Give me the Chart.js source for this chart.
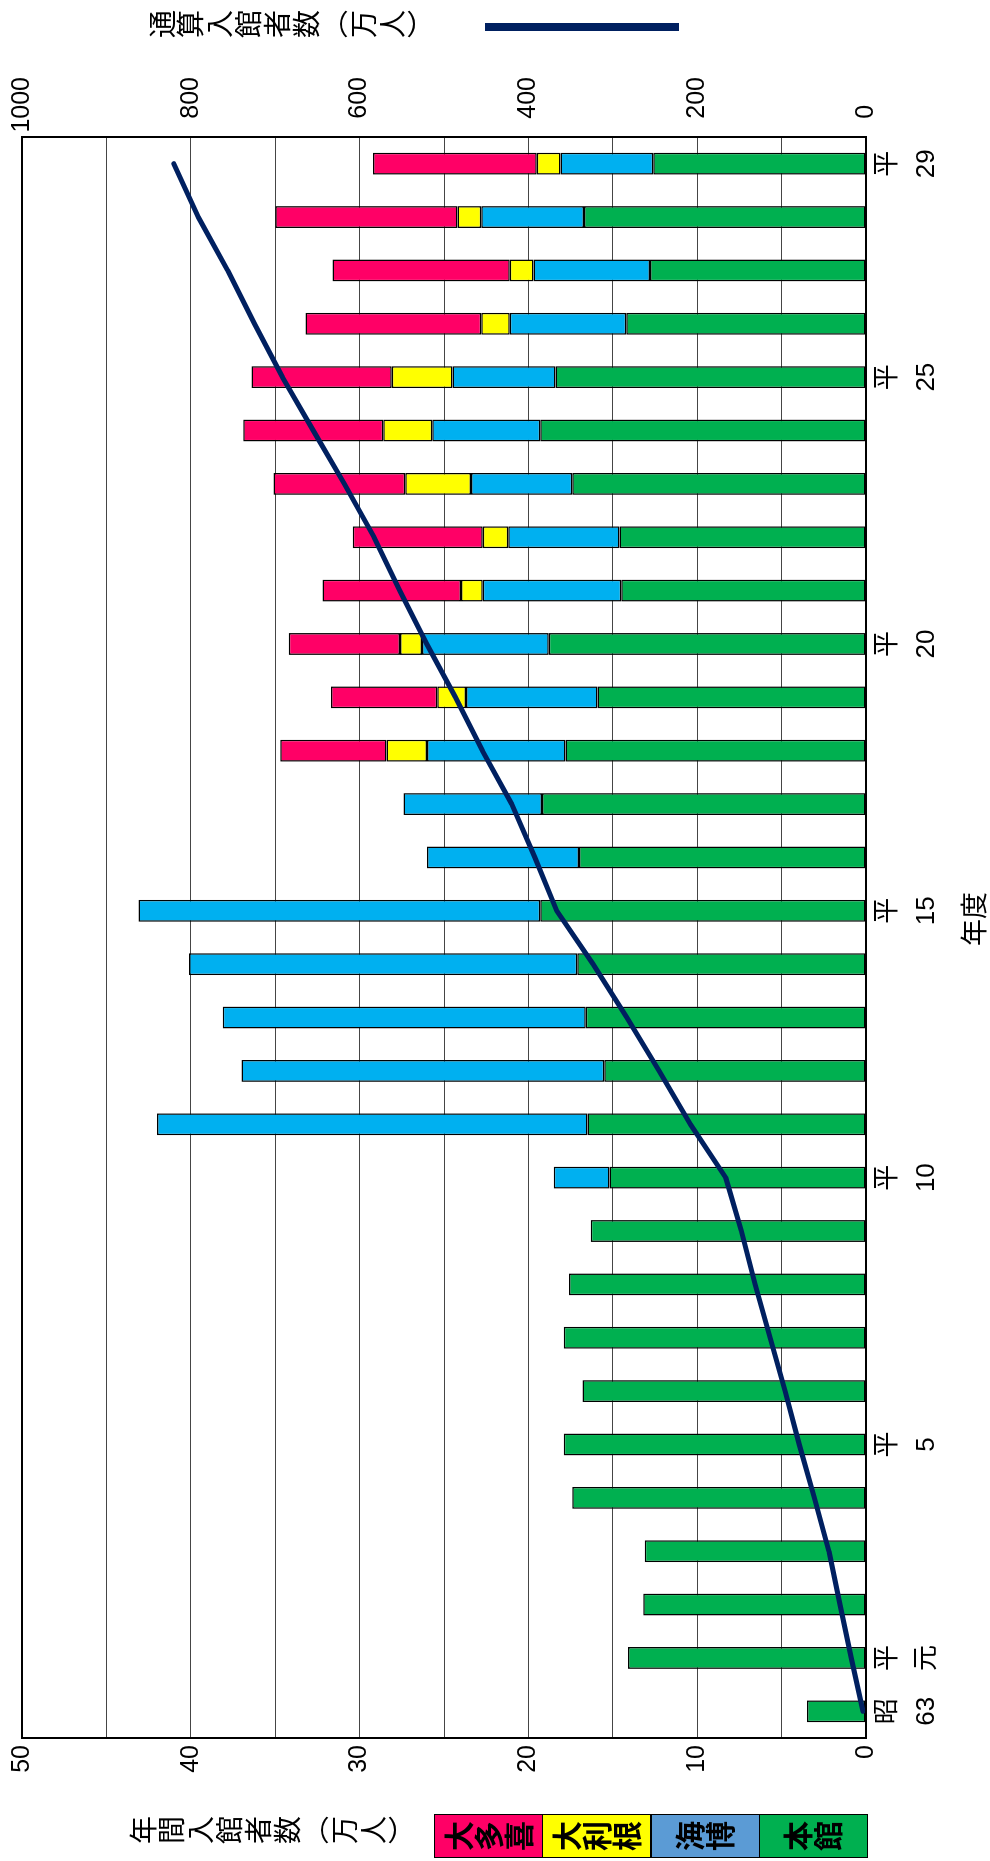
<!DOCTYPE html>
<html>
<head>
<meta charset="utf-8">
<script src="https://cdn.jsdelivr.net/npm/chart.js@4/dist/chart.umd.min.js"></script>
<style>
html,body{margin:0;padding:0;width:990px;height:1861px;overflow:hidden;background:#fff;}
#rot{position:absolute;left:0;top:0;width:1861px;height:990px;transform-origin:0 0;transform:translate(0,1861px) rotate(-90deg);background:#fff;}
#c{position:absolute;left:0;top:0;}
.vt{position:absolute;writing-mode:vertical-rl;font-family:'Noto Sans CJK JP','Noto Sans CJK SC',sans-serif;color:#000;white-space:nowrap;}
.box{position:absolute;box-sizing:border-box;border:1.5px solid #000;display:flex;align-items:center;justify-content:center;writing-mode:vertical-rl;font-family:'Noto Sans CJK JP',sans-serif;font-weight:bold;font-size:30px;line-height:1;color:#000;}
</style>
</head>
<body>
<div id="rot">
  <canvas id="c" width="1861" height="990"></canvas>
  <div class="vt" style="left:17px;top:129px;font-size:28px;line-height:28px;letter-spacing:0.8px;">年間入館者数（万人）</div>
  <div class="vt" style="left:1823px;top:148px;font-size:28px;line-height:28px;letter-spacing:0.8px;">通算入館者数（万人）</div>
  <div style="position:absolute;left:1830px;top:485px;width:8px;height:194px;background:#002060;"></div>
  <div style="position:absolute;left:912px;top:957px;width:60px;text-align:center;font-family:'Noto Sans CJK JP',sans-serif;font-size:27px;line-height:32px;">年度</div>
  <div id="legend"></div>
</div>
<script>
const categories = ['昭63','平元','平2','平3','平4','平5','平6','平7','平8','平9','平10','平11','平12','平13','平14','平15','平16','平17','平18','平19','平20','平21','平22','平23','平24','平25','平26','平27','平28','平29'];
const tickLabels = [['昭','63'],['平','元'],'','','',['平','5'],'','','','',['平','10'],'','','','',['平','15'],'','','','',['平','20'],'','','','',['平','25'],'','','',['平','29']];
const honkan = [3.5,14.1,13.2,13.1,17.4,17.9,16.8,17.9,17.6,16.3,15.2,16.5,15.5,16.6,17.1,19.3,17.0,19.2,17.8,15.9,18.8,14.5,14.6,17.4,19.3,18.4,14.2,12.8,16.7,12.6];
const kaihaku = [null,null,null,null,null,null,null,null,null,null,3.3,25.5,21.5,21.5,23.0,23.8,9.0,8.2,8.2,7.8,7.5,8.2,6.6,6.0,6.4,6.1,6.9,6.9,6.1,5.5];
const otone = [null,null,null,null,null,null,null,null,null,null,null,null,null,null,null,null,null,null,2.4,1.7,1.3,1.3,1.5,3.9,2.9,3.6,1.7,1.4,1.4,1.4];
const otaki = [null,null,null,null,null,null,null,null,null,null,null,null,null,null,null,null,null,null,6.3,6.3,6.6,8.2,7.7,7.8,8.3,8.3,10.4,10.5,10.8,9.7];
const cumulative = [3.5,17.5,30.8,43.9,61.2,79.1,95.9,113.7,131.3,147.7,166.2,208.1,245.1,283.2,323.3,366.4,392.4,419.8,454.5,486.3,520.4,552.5,582.8,618.0,654.9,691.4,724.6,756.3,791.1,820.2];
const leftTicks = [0,10,20,30,40,50];
const rightTicks = [0,200,400,600,800,1000];

const seriesNames = ['本館','海博','大利根','大多喜'];
const barColors = ['#00B050','#00B0F0','#FFFF00','#FF0066'];
const legendNames = ['大多喜','大利根','海博','本館'];
const legendColors = ['#FF0066','#FFFF00','#5B9BD5','#00B050'];

// legend boxes
const lg = document.getElementById('legend');
legendNames.forEach((n,i)=>{
  const d = document.createElement('div');
  d.className='box';
  d.style.left='3px'; d.style.top=(434+i*108.25)+'px';
  d.style.width='44px'; d.style.height='109px';
  d.style.background=legendColors[i];
  d.textContent=n;
  lg.appendChild(d);
});

const FONT = "'Liberation Sans','Noto Sans CJK JP',sans-serif";
const barData = [honkan,kaihaku,otone,otaki];
const datasets = barData.map((arr,i)=>({
  type:'bar', label:seriesNames[i], data:arr, yAxisID:'y',
  backgroundColor:barColors[i], borderColor:'#000', borderWidth:1.5, borderSkipped:false,
  barPercentage:0.41, categoryPercentage:1.0, order:1
}));
datasets.push({
  type:'line', label:'通算入館者数', data:cumulative, yAxisID:'y2',
  borderColor:'#002060', borderWidth:5, pointRadius:0, tension:0, fill:false, order:0,
  borderCapStyle:'round', borderJoinStyle:'round'
});

const frame = {
  id:'frame',
  afterDraw(chart){
    const a = chart.chartArea, ctx = chart.ctx;
    ctx.save();
    ctx.strokeStyle='#000'; ctx.lineWidth=2;
    ctx.strokeRect(a.left, a.top, a.right-a.left, a.bottom-a.top);
    ctx.restore();
  }
};

new Chart(document.getElementById('c'), {
  type:'bar',
  data:{labels:categories, datasets},
  options:{
    responsive:false, animation:false, devicePixelRatio:1,
    layout:{padding:{top:21,left:0,right:77,bottom:0}},
    plugins:{legend:{display:false}, tooltip:{enabled:false}},
    scales:{
      x:{
        stacked:true, offset:true,
        grid:{display:false, drawTicks:false},
        border:{color:'#000', width:2},
        ticks:{autoSkip:false, maxRotation:0, minRotation:0, padding:2, color:'#000',
          font:{family:FONT, size:26, lineHeight:1.5},
          callback:(v,i)=>tickLabels[i]},
        afterFit:(s)=>{s.height=124;}
      },
      y:{
        stacked:true, position:'left', min:0, max:50,
        afterBuildTicks:(s)=>{ s.ticks=[0,5,10,15,20,25,30,35,40,45,50].map(v=>({value:v})); },
        grid:{color:'#454545', lineWidth:1, drawTicks:false},
        border:{color:'#000', width:2},
        ticks:{padding:7, color:'#000', font:{family:FONT, size:25},
          callback:(v)=>leftTicks.includes(v)?String(v):''},
        afterFit:(s)=>{s.width=123;}
      },
      y2:{
        position:'right', min:0, max:1000,
        afterBuildTicks:(s)=>{ s.ticks=rightTicks.map(v=>({value:v})); },
        grid:{drawOnChartArea:false, drawTicks:false},
        border:{color:'#000', width:2},
        ticks:{padding:4, color:'#000', crossAlign:'far', font:{family:FONT, size:25},
          callback:(v)=> v===0 ? '0    ' : String(v)},
        afterFit:(s)=>{s.width=60;}
      }
    }
  },
  plugins:[frame]
});
</script>
</body>
</html>
